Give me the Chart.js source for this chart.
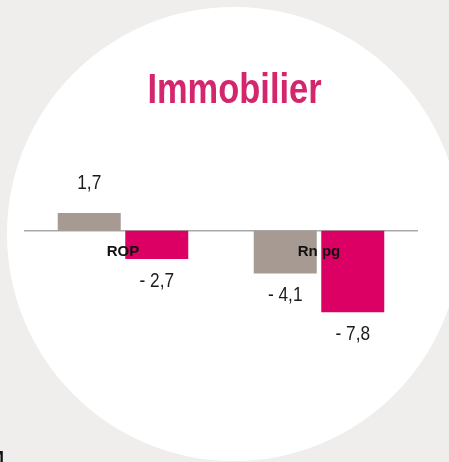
<!DOCTYPE html>
<html>
<head>
<meta charset="utf-8">
<script src="https://cdn.jsdelivr.net/npm/chart.js@4/dist/chart.umd.min.js"></script>
<style>
  html, body { margin: 0; padding: 0; width: 449px; height: 462px; overflow: hidden; background: #efeeec; }
  #circle { position: absolute; left: 7px; top: 7px; width: 454px; height: 454px; border-radius: 50%; background: #ffffff; }
  #wrap { position: absolute; left: 0; top: 0; width: 449px; height: 462px; }
  #corner { position: absolute; left: -11px; top: 448px; font: bold 18px "Liberation Sans", Arial, sans-serif; color: #111; }
</style>
</head>
<body>
<div id="circle"></div>
<div id="wrap"><canvas id="c" width="449" height="462"></canvas></div>
<div id="corner">M</div>
<script>
const titleText = "Immobilier";
const categories = ["ROP", "Rn pg"];
const seriesGray = [1.7, -4.1];
const seriesMagenta = [-2.7, -7.8];

function fmt(v) {
  const s = Math.abs(v).toFixed(1).replace('.', ',');
  return v < 0 ? '- ' + s : s;
}

function narrowText(ctx, text, x, y) {
  ctx.save();
  ctx.translate(x, y);
  ctx.scale(0.82, 1);
  ctx.fillText(text, 0, 0);
  ctx.restore();
}

const valueLabels = {
  id: 'valueLabels',
  afterDatasetsDraw(chart) {
    const ctx = chart.ctx;
    ctx.save();
    ctx.font = '21px "Liberation Sans", Arial, sans-serif';
    ctx.fillStyle = '#1a1a1a';
    ctx.textAlign = 'center';
    ctx.textBaseline = 'middle';
    chart.data.datasets.forEach((ds, di) => {
      const meta = chart.getDatasetMeta(di);
      meta.data.forEach((bar, i) => {
        const v = ds.data[i];
        const y = v >= 0 ? bar.y - 30 : bar.y + 22;
        narrowText(ctx, fmt(v), bar.x, y);
      });
    });
    ctx.restore();
  }
};

const titlePlugin = {
  id: 'titleText',
  afterDraw(chart) {
    const ctx = chart.ctx;
    ctx.save();
    ctx.font = 'bold 42px "Liberation Sans", Arial, sans-serif';
    ctx.fillStyle = '#d4266c';
    ctx.textAlign = 'center';
    ctx.textBaseline = 'alphabetic';
    narrowText(ctx, titleText, 234.5, 102.5);
    ctx.restore();
  }
};

new Chart(document.getElementById('c'), {
  type: 'bar',
  data: {
    labels: categories,
    datasets: [
      { data: seriesGray, backgroundColor: '#a69a93', borderWidth: 0 },
      { data: seriesMagenta, backgroundColor: '#dc0064', borderWidth: 0 }
    ]
  },
  options: {
    responsive: false,
    animation: false,
    devicePixelRatio: 1,
    categoryPercentage: 0.689,
    barPercentage: 0.933,
    layout: { padding: { left: 25, right: 32, top: 168, bottom: 137.25 } },
    plugins: { legend: { display: false }, title: { display: false }, tooltip: { enabled: false } },
    scales: {
      x: {
        position: { y: 0 },
        grid: { display: false, drawTicks: false },
        border: { display: true, color: '#a9a9a9', width: 1.5 },
        ticks: {
          z: 1,
          padding: 12,
          color: '#111111',
          font: { family: '"Liberation Sans", Arial, sans-serif', size: 15, weight: 'bold' }
        }
      },
      y: {
        display: false,
        min: -9,
        max: 6
      }
    }
  },
  plugins: [valueLabels, titlePlugin]
});
</script>
</body>
</html>
